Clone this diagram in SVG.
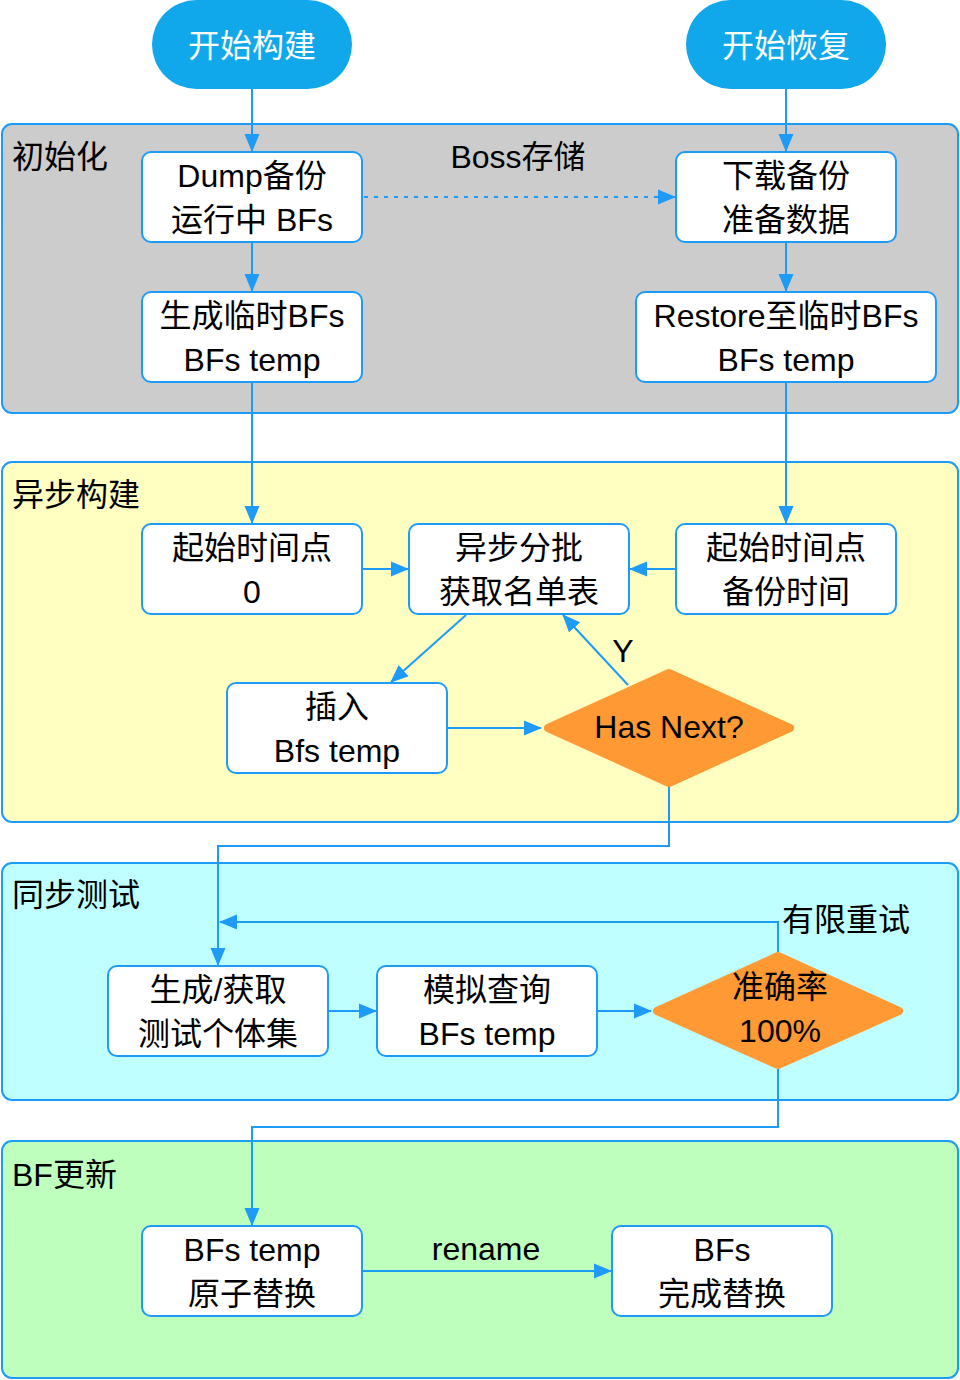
<svg xmlns="http://www.w3.org/2000/svg" width="960" height="1380" viewBox="0 0 960 1380">
<defs>
<style>
text{font-family:"Liberation Sans","Noto Sans CJK SC",sans-serif;font-size:32px;fill:#000}
.c{text-anchor:middle}
.w{fill:#fff}
.sec{stroke:#1E9BF7;stroke-width:2}
.box{fill:#fff;stroke:#1E9BF7;stroke-width:2}
.pill{fill:#10A8EA}
.dia{fill:#FF9933;stroke:#FF9933;stroke-width:8;stroke-linejoin:round}
.ln{fill:none;stroke:#1E9BF7;stroke-width:2}
.dash{stroke-dasharray:4 6}
</style>
<marker id="ah" markerUnits="userSpaceOnUse" markerWidth="18" markerHeight="16" refX="17" refY="8" orient="auto">
<path d="M0,0.5 L18,8 L0,15.5 Z" fill="#1E9BF7"/>
</marker>
</defs>

<g id="sec-init"><rect class="sec" x="2" y="124" width="956" height="289" rx="10" fill="#CCCCCC"/><text x="12" y="168">初始化</text><text class="c" x="518" y="168">Boss存储</text></g>
<g id="sec-async"><rect class="sec" x="2" y="462" width="956" height="360" rx="10" fill="#FFFFC2"/><text x="12" y="506">异步构建</text></g>
<g id="sec-sync"><rect class="sec" x="2" y="863" width="956" height="237" rx="10" fill="#C0FFFF"/><text x="12" y="906">同步测试</text></g>
<g id="sec-update"><rect class="sec" x="2" y="1141" width="956" height="237" rx="10" fill="#BEFFBE"/><text x="12" y="1186">BF更新</text></g>

<g id="connectors">
<path class="ln" d="M252,89 V151" marker-end="url(#ah)"/>
<path class="ln" d="M786,89 V151" marker-end="url(#ah)"/>
<path class="ln dash" d="M364,197 H675" marker-end="url(#ah)"/>
<path class="ln" d="M252,242 V291" marker-end="url(#ah)"/>
<path class="ln" d="M786,242 V291" marker-end="url(#ah)"/>
<path class="ln" d="M252,382 V523" marker-end="url(#ah)"/>
<path class="ln" d="M786,382 V523" marker-end="url(#ah)"/>
<path class="ln" d="M362,569 H408" marker-end="url(#ah)"/>
<path class="ln" d="M676,569 H630" marker-end="url(#ah)"/>
<path class="ln" d="M466,615 L391,682" marker-end="url(#ah)"/>
<path class="ln" d="M628,685 L563,615" marker-end="url(#ah)"/>
<text class="c" x="623" y="662">Y</text>
<path class="ln" d="M447,728 H541" marker-end="url(#ah)"/>
<path class="ln" d="M669,787 V846 H218 V965" marker-end="url(#ah)"/>
<path class="ln" d="M328,1011 H376" marker-end="url(#ah)"/>
<path class="ln" d="M597,1011 H651" marker-end="url(#ah)"/>
<path class="ln" d="M778,952 V922 H220" marker-end="url(#ah)"/>
<text x="782" y="931">有限重试</text>
<path class="ln" d="M778,1069 V1127 H252 V1225" marker-end="url(#ah)"/>
<path class="ln" d="M362,1271 H611" marker-end="url(#ah)"/>
<text class="c" x="486" y="1260">rename</text>
</g>

<g id="start-build"><rect class="pill" x="152" y="0" width="200" height="89" rx="44.5"/><text class="c w" x="252" y="57">开始构建</text></g>
<g id="start-restore"><rect class="pill" x="686" y="0" width="200" height="89" rx="44.5"/><text class="c w" x="786" y="57">开始恢复</text></g>

<g id="dump"><rect class="box" x="142" y="152" width="220" height="90" rx="9"/><text class="c" x="252" y="187">Dump备份</text><text class="c" x="252" y="231">运行中 BFs</text></g>
<g id="gen-temp"><rect class="box" x="142" y="292" width="220" height="90" rx="9"/><text class="c" x="252" y="327">生成临时BFs</text><text class="c" x="252" y="371">BFs temp</text></g>
<g id="download"><rect class="box" x="676" y="152" width="220" height="90" rx="9"/><text class="c" x="786" y="187">下载备份</text><text class="c" x="786" y="231">准备数据</text></g>
<g id="restore"><rect class="box" x="636" y="292" width="300" height="90" rx="9"/><text class="c" x="786" y="327">Restore至临时BFs</text><text class="c" x="786" y="371">BFs temp</text></g>

<g id="start0"><rect class="box" x="142" y="524" width="220" height="90" rx="9"/><text class="c" x="252" y="559">起始时间点</text><text class="c" x="252" y="603">0</text></g>
<g id="batch"><rect class="box" x="409" y="524" width="220" height="90" rx="9"/><text class="c" x="519" y="559">异步分批</text><text class="c" x="519" y="603">获取名单表</text></g>
<g id="start-backup"><rect class="box" x="676" y="524" width="220" height="90" rx="9"/><text class="c" x="786" y="559">起始时间点</text><text class="c" x="786" y="603">备份时间</text></g>
<g id="insert"><rect class="box" x="227" y="683" width="220" height="90" rx="9"/><text class="c" x="337" y="718">插入</text><text class="c" x="337" y="762">Bfs temp</text></g>
<g id="has-next"><polygon class="dia" points="548,728 669,673 790,728 669,783"/><text class="c" x="669" y="738">Has Next?</text></g>

<g id="gen-test"><rect class="box" x="108" y="966" width="220" height="90" rx="9"/><text class="c" x="218" y="1001">生成/获取</text><text class="c" x="218" y="1045">测试个体集</text></g>
<g id="query"><rect class="box" x="377" y="966" width="220" height="90" rx="9"/><text class="c" x="487" y="1001">模拟查询</text><text class="c" x="487" y="1045">BFs temp</text></g>
<g id="accuracy"><polygon class="dia" points="657,1011 778,956 899,1011 778,1065"/><text class="c" x="780" y="998">准确率</text><text class="c" x="780" y="1042">100%</text></g>

<g id="atomic"><rect class="box" x="142" y="1226" width="220" height="90" rx="9"/><text class="c" x="252" y="1261">BFs temp</text><text class="c" x="252" y="1305">原子替换</text></g>
<g id="done"><rect class="box" x="612" y="1226" width="220" height="90" rx="9"/><text class="c" x="722" y="1261">BFs</text><text class="c" x="722" y="1305">完成替换</text></g>
</svg>
